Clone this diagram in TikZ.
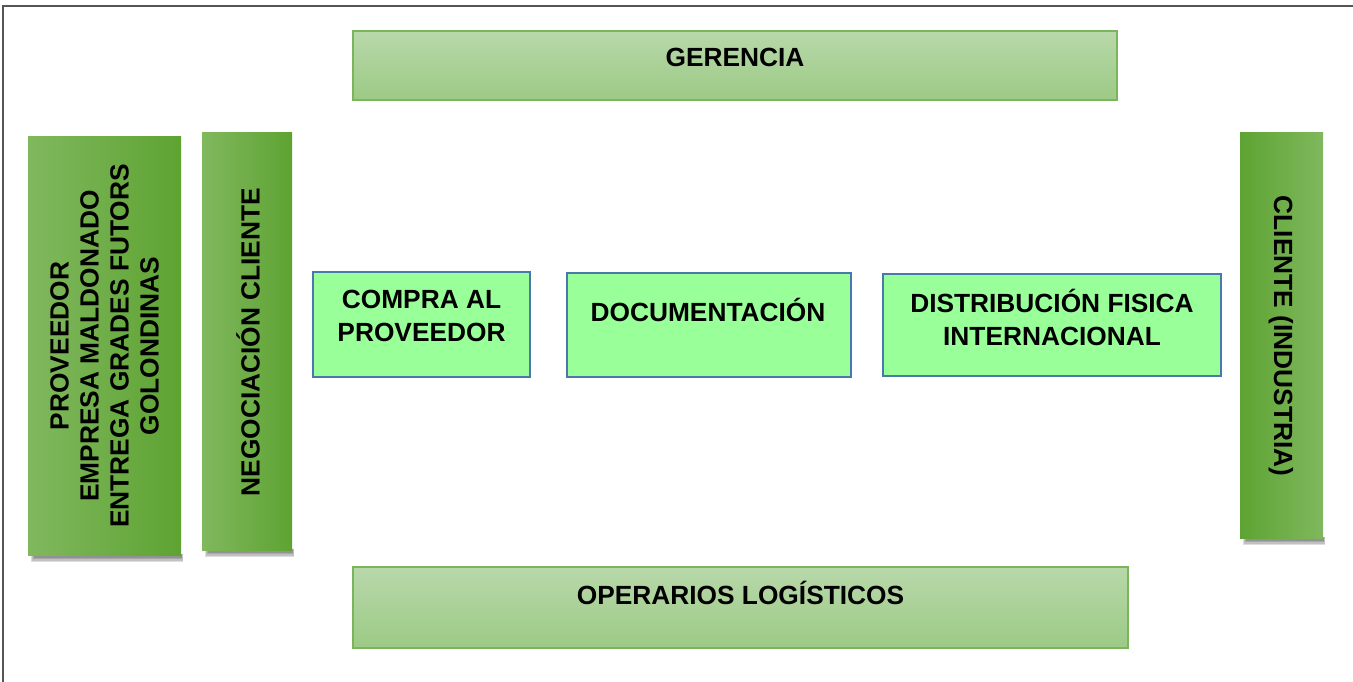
\documentclass[tikz,border=0pt]{standalone}
\usepackage{fontspec}
\setmainfont{Liberation Sans}
\usetikzlibrary{calc,backgrounds}
\definecolor{gerTop}{HTML}{B8D8AA}
\definecolor{gerBot}{HTML}{9CCA85}
\definecolor{gerBorder}{HTML}{7AB55C}
\definecolor{barLight}{HTML}{80B85E}
\definecolor{barDark}{HTML}{5EA332}
\definecolor{midFill}{HTML}{99FF99}
\definecolor{midBorder}{HTML}{4A78AC}
\definecolor{frameCol}{HTML}{555555}
\begin{document}
\begin{tikzpicture}[x=1pt,y=-1pt,
  bandbox/.style={draw=gerBorder, line width=1.3pt, top color=gerTop, bottom color=gerBot, inner sep=0pt},
  barLR/.style={left color=barLight, right color=barDark, inner sep=0pt},
  barRL/.style={left color=barDark, right color=barLight, inner sep=0pt},
  midbox/.style={draw=midBorder, line width=1.8pt, fill=midFill, inner sep=0pt},
  lbl/.style={font=\fontsize{26.3}{33}\selectfont\bfseries, align=center, inner sep=0pt, text=black},
  rlbl/.style={font=\fontsize{26.3}{30}\selectfont\bfseries, align=center, inner sep=0pt, text=black},
  shadowlayer/.style={black, opacity=0.13}
]
\useasboundingbox (0,0) rectangle (1353,682);

% boxes
\node[bandbox, minimum width=764pt, minimum height=69pt] (ger) at (735,65.5) {};
\node[bandbox, minimum width=775pt, minimum height=81pt] (ope) at (740.5,607.5) {};
\node[barLR, minimum width=153pt, minimum height=418pt] (prov) at (104.5,346) {};
\node[barLR, minimum width=90pt, minimum height=417pt] (neg) at (247,341.5) {};
\node[barRL, minimum width=83pt, minimum height=405pt] (cli) at (1281.5,335.5) {};
\node[midbox, minimum width=217pt, minimum height=105pt] (comp) at (421.5,324.5) {};
\node[midbox, minimum width=284pt, minimum height=104pt] (doc) at (709,325) {};
\node[midbox, minimum width=338pt, minimum height=102pt] (dist) at (1052,325) {};

% background and shadows
\begin{pgfonlayer}{background}
\fill[white] (0,0) rectangle (1353,682);
\foreach \n in {prov,neg,cli}{
  \foreach \k in {0,1,2,3}{
    \fill[shadowlayer] ($(\n.south west)+(\k+3,-1)$) rectangle ($(\n.south east)+(2-0.5*\k,7-1.5*\k)$);
  }
}
\end{pgfonlayer}
\draw[frameCol, line width=2pt] (3,682) -- (3,6) -- (1353,6);

% texts
\node[lbl] (gert) at (735,57.5) {GERENCIA};
\node[lbl] (opet) at (740.5,592.5) {OPERARIOS LOGÍSTICOS};
\node[lbl] (compt) at (421.5,316) {COMPRA AL\\PROVEEDOR};
\node[lbl] (doct) at (708,310) {DOCUMENTACIÓN};
\node[lbl] (distt) at (1052,317.5) {DISTRIBUCIÓN FISICA\\INTERNACIONAL};
\node[rlbl, rotate=90] (provt) at (104.5,346) {PROVEEDOR\\EMPRESA MALDONADO\\ENTREGA GRADES FUTORS\\GOLONDINAS};
\node[rlbl, rotate=90] (negt) at (248,342) {NEGOCIACIÓN CLIENTE};
\node[rlbl, rotate=-90] (clit) at (1281,336) {CLIENTE (INDUSTRIA)};
\end{tikzpicture}
\end{document}
